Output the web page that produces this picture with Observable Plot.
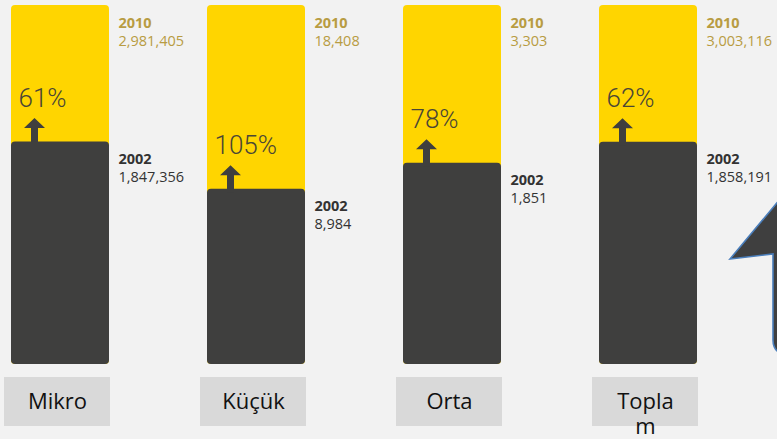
<!DOCTYPE html>
<html>
<head>
<meta charset="utf-8">
<script src="https://cdn.jsdelivr.net/npm/d3@7"></script>
<script src="https://cdn.jsdelivr.net/npm/@observablehq/plot@0.6"></script>
<style>
  html, body { margin: 0; padding: 0; background: #f2f2f2; }
  #wrap { position: relative; width: 777px; height: 439px; overflow: hidden; }
  #wrap svg.overlay { position: absolute; left: 0; top: 0; pointer-events: none; }
</style>
</head>
<body>
<div id="wrap"></div>
<script>
// ---- data ----
const categories = ["Mikro", "Küçük", "Orta", "Toplam"];
const tickLabels = ["Mikro", "Küçük", "Orta", "Topla\nm"];
const values2002 = [1847356, 8984, 1851, 1858191];
const values2010 = [2981405, 18408, 3303, 3003116];
const growthLabels = ["61%", "105%", "78%", "62%"];
const yearLabels = ["2002", "2010"];

const fmt = d3.format(",");
const data = categories.map((c, i) => ({
  category: c,
  label: tickLabels[i],
  v2002: values2002[i],
  v2010: values2010[i],
  full: values2010[i] / values2010[i],
  ratio: values2002[i] / values2010[i],
  growth: growthLabels[i]
}));

const YELLOW = "#ffd500";
const DARK = "#3f3f3e";
const GOLD = "#b89c42";
const TEXTDARK = "#333333";
const font = "'Open Sans', sans-serif";

// upward arrow glyph, anchored at its base
const arrowSymbol = {
  draw(ctx) {
    ctx.moveTo(-3.5, 3);
    ctx.lineTo(-3.5, -14);
    ctx.lineTo(-10.5, -14);
    ctx.lineTo(0, -24);
    ctx.lineTo(10.5, -14);
    ctx.lineTo(3.5, -14);
    ctx.lineTo(3.5, 3);
    ctx.closePath();
  }
};

const chart = Plot.plot({
  width: 777,
  height: 439,
  marginTop: 5,
  marginBottom: 75,
  marginLeft: 10,
  marginRight: 79,
  style: { background: "transparent", fontFamily: font },
  x: { domain: categories, paddingInner: 0.5, paddingOuter: 0, axis: null },
  y: { domain: [0, 1], axis: null },
  marks: [
    // category label boxes
    Plot.cell(data, { x: "category", fill: "#d9d9d9", insetTop: 372, insetBottom: -62, insetLeft: -7, insetRight: -1 }),
    Plot.text(data, {
      x: "category", text: "label", frameAnchor: "bottom", lineAnchor: "top", dy: 27, dx: -3,
      fontFamily: font, fontSize: 22, fill: "#111", lineHeight: 1.12
    }),
    // 2010 (full) bars and 2002 bars
    Plot.barY(data, { x: "category", y: "full", fill: YELLOW, rx: 4 }),
    Plot.barY(data, { x: "category", y: "ratio", fill: DARK, rx: 4 }),
    // growth arrows and labels
    Plot.dot(data, { x: "category", y: "ratio", symbol: arrowSymbol, fill: DARK, r: 5, dx: -26 }),
    Plot.text(data, {
      x: "category", y: "ratio", text: "growth", textAnchor: "start", lineAnchor: "bottom",
      dx: -42, dy: -35, fontFamily: "Roboto", fontWeight: 300, fontSize: 26, fill: "#4a4636",
      letterSpacing: -2
    }),
    // 2010 labels
    Plot.text(data, {
      x: "category", y: "full", text: () => yearLabels[1], textAnchor: "start", lineAnchor: "bottom",
      dx: 58, dy: 22, fontFamily: font, fontWeight: 700, fontSize: 14.5, fill: GOLD
    }),
    Plot.text(data, {
      x: "category", y: "full", text: d => fmt(d.v2010), textAnchor: "start", lineAnchor: "bottom",
      dx: 58, dy: 40, fontFamily: font, fontSize: 14.5, fill: GOLD
    }),
    // 2002 labels
    Plot.text(data, {
      x: "category", y: "ratio", text: () => yearLabels[0], textAnchor: "start", lineAnchor: "bottom",
      dx: 58, dy: 22, fontFamily: font, fontWeight: 700, fontSize: 14.5, fill: TEXTDARK
    }),
    Plot.text(data, {
      x: "category", y: "ratio", text: d => fmt(d.v2002), textAnchor: "start", lineAnchor: "bottom",
      dx: 58, dy: 40, fontFamily: font, fontSize: 14.5, fill: TEXTDARK
    })
  ]
});

const wrap = document.getElementById("wrap");
wrap.appendChild(chart);

// decorative callout arrow (annotation, not data)
const ns = "http://www.w3.org/2000/svg";
const ov = document.createElementNS(ns, "svg");
ov.setAttribute("class", "overlay");
ov.setAttribute("width", 777);
ov.setAttribute("height", 439);
const p = document.createElementNS(ns, "path");
p.setAttribute("d", "M730,259 L791,186 L852,259 L812,255 L812,342 Q812,356 794,356 Q773,356 773,340 L773,254 Z");
p.setAttribute("fill", "#3f3f3f");
p.setAttribute("stroke", "#4a7ebb");
p.setAttribute("stroke-width", "1.6");
p.setAttribute("stroke-linejoin", "miter");
ov.appendChild(p);
wrap.appendChild(ov);
</script>
</body>
</html>
